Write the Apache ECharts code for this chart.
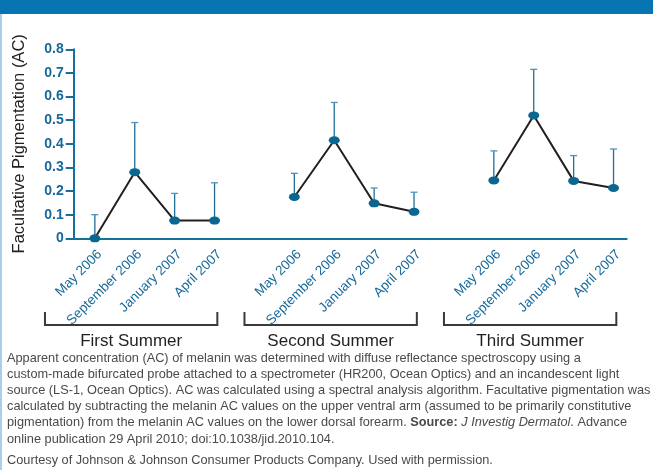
<!DOCTYPE html>
<html>
<head>
<meta charset="utf-8">
<script src="https://cdn.jsdelivr.net/npm/echarts@6/dist/echarts.min.js"></script>
<style>
  html, body { margin: 0; padding: 0; background: #ffffff; }
  #chart { width: 653px; height: 470px; }
</style>
</head>
<body>
<div id="chart"></div>
<script>
// Visit months measured within each summer
const months = ['May 2006', 'September 2006', 'January 2007', 'April 2007'];
const summers = ['First Summer', 'Second Summer', 'Third Summer'];

// Mean facultative pigmentation (AC) per visit
const firstMean  = [0.000, 0.280, 0.075, 0.075];
const secondMean = [0.175, 0.415, 0.148, 0.112];
const thirdMean  = [0.245, 0.520, 0.243, 0.213];

// Upper end of each error bar
const firstUpper  = [0.100, 0.490, 0.190, 0.235];
const secondUpper = [0.275, 0.575, 0.213, 0.195];
const thirdUpper  = [0.370, 0.715, 0.350, 0.378];

// Y-axis tick labels
const yTickLabels = ['0', '0.1', '0.2', '0.3', '0.4', '0.5', '0.6', '0.7', '0.8'];

const captionLines = [
  'Apparent concentration (AC) of melanin was determined with diffuse reflectance spectroscopy using a',
  'custom-made bifurcated probe attached to a spectrometer (HR200, Ocean Optics) and an incandescent light',
  'source (LS-1, Ocean Optics). AC was calculated using a spectral analysis algorithm. Facultative pigmentation was',
  'calculated by subtracting the melanin AC values on the upper ventral arm (assumed to be primarily constitutive',
  'pigmentation) from the melanin AC values on the lower dorsal forearm. {b|Source:} {i|J Investig Dermatol}. Advance',
  'online publication 29 April 2010; doi:10.1038/jid.2010.104.'
];
const creditLine = 'Courtesy of Johnson & Johnson Consumer Products Company. Used with permission.';

const AXIS_BLUE = '#16709c';
const LABEL_BLUE = '#17699a';
const DOT_BLUE = '#0b6690';
const FONT = '"Liberation Sans", Arial, Helvetica, sans-serif';
const CAPTION_SIZE = 12.75;

// Each summer occupies 4 slots on the x scale, separated by one empty slot
const SLOT_GAP = 5;
const groups = [
  { name: summers[0], mean: firstMean,  upper: firstUpper },
  { name: summers[1], mean: secondMean, upper: secondUpper },
  { name: summers[2], mean: thirdMean,  upper: thirdUpper }
];

const slotValues = [];
groups.forEach((g, gi) => months.forEach((m, mi) => slotValues.push(gi * SLOT_GAP + mi)));

const lineSeries = groups.map((g, gi) => ({
  name: g.name,
  type: 'line',
  z: 3,
  data: g.mean.map((v, mi) => [gi * SLOT_GAP + mi, v]),
  lineStyle: { color: '#231f20', width: 2 },
  symbol: 'circle',
  symbolSize: [11, 8],
  itemStyle: { color: DOT_BLUE },
  emphasis: { disabled: true },
  animation: false
}));

const errorData = [];
groups.forEach((g, gi) => g.mean.forEach((v, mi) => errorData.push([gi * SLOT_GAP + mi, v, g.upper[mi]])));

const errorSeries = {
  type: 'custom',
  z: 2,
  data: errorData,
  animation: false,
  renderItem: function (params, api) {
    const x = api.value(0);
    const base = api.coord([x, api.value(1)]);
    const top = api.coord([x, api.value(2)]);
    return {
      type: 'group',
      children: [
        { type: 'line', shape: { x1: base[0], y1: base[1], x2: top[0], y2: top[1] },
          style: { stroke: '#1f6f99', lineWidth: 1.3 } },
        { type: 'line', shape: { x1: top[0] - 3.5, y1: top[1], x2: top[0] + 3.5, y2: top[1] },
          style: { stroke: '#4f93bb', lineWidth: 1.3 } }
      ]
    };
  }
};

const chart = echarts.init(document.getElementById('chart'), null, { renderer: 'canvas' });

chart.setOption({
  animation: false,
  backgroundColor: '#ffffff',
  grid: { left: 73.7, right: 26.3, top: 49.3, bottom: 231.7, containLabel: false },
  xAxis: {
    type: 'value',
    min: -0.53,
    max: 13.33,
    splitLine: { show: false },
    axisLine: { show: true, onZero: false, lineStyle: { color: AXIS_BLUE, width: 2 } },
    axisTick: { show: false },
    axisLabel: {
      customValues: slotValues,
      rotate: 45,
      margin: 9,
      verticalAlign: 'top',
      color: LABEL_BLUE,
      fontFamily: FONT,
      fontSize: 13.5,
      formatter: function (v) { return months[Math.round(v) % SLOT_GAP]; }
    }
  },
  yAxis: {
    type: 'value',
    min: 0,
    max: 0.8,
    interval: 0.1,
    name: 'Facultative Pigmentation (AC)',
    nameLocation: 'middle',
    nameGap: 46,
    nameTextStyle: { color: '#231f20', fontSize: 16.5, fontFamily: FONT },
    splitLine: { show: false },
    axisLine: { show: true, onZero: false, lineStyle: { color: AXIS_BLUE, width: 2 } },
    axisTick: { show: true, length: 8, lineStyle: { color: AXIS_BLUE, width: 2 } },
    axisLabel: {
      margin: 10,
      color: LABEL_BLUE,
      fontWeight: 'bold',
      fontSize: 14,
      fontFamily: FONT,
      formatter: function (v) { return yTickLabels[Math.round(v * 10)]; }
    }
  },
  series: [errorSeries].concat(lineSeries)
});

// Frame, summer brackets and caption, positioned from the x scale
function buildDecorations() {
  const toX = v => chart.convertToPixel({ xAxisIndex: 0 }, v);
  const elements = [
    { type: 'rect', shape: { x: 0, y: 0, width: 653, height: 14 }, style: { fill: '#0875b3' }, silent: true },
    { type: 'rect', shape: { x: 0, y: 14, width: 2, height: 456 }, style: { fill: '#a8d0ea' }, silent: true }
  ];
  groups.forEach((g, gi) => {
    const start = gi * SLOT_GAP;
    const x1 = toX(start - 1.25);
    const x2 = toX(start + 3.07);
    elements.push({
      type: 'polyline',
      silent: true,
      shape: { points: [[x1, 312], [x1, 325], [x2, 325], [x2, 312]] },
      style: { stroke: '#3a3a3a', lineWidth: 2, fill: null }
    });
    elements.push({
      type: 'text',
      silent: true,
      style: {
        x: (x1 + x2) / 2, y: 341, text: g.name,
        align: 'center', verticalAlign: 'middle',
        fill: '#231f20', fontSize: 17, fontFamily: FONT
      }
    });
  });
  captionLines.forEach((line, i) => {
    elements.push({
      type: 'text',
      silent: true,
      style: {
        x: 7, y: 358 + i * 16.2, text: line,
        align: 'left', verticalAlign: 'middle',
        fill: '#4a4a4a', fontSize: CAPTION_SIZE, fontFamily: FONT,
        rich: {
          b: { fontWeight: 'bold', fill: '#4a4a4a', fontSize: CAPTION_SIZE, fontFamily: FONT },
          i: { fontStyle: 'italic', fill: '#4a4a4a', fontSize: CAPTION_SIZE, fontFamily: FONT }
        }
      }
    });
  });
  elements.push({
    type: 'text',
    silent: true,
    style: {
      x: 7, y: 460, text: creditLine,
      align: 'left', verticalAlign: 'middle',
      fill: '#4a4a4a', fontSize: CAPTION_SIZE, fontFamily: FONT
    }
  });
  chart.setOption({ graphic: { elements: elements } });
}
buildDecorations();
</script>
</body>
</html>
